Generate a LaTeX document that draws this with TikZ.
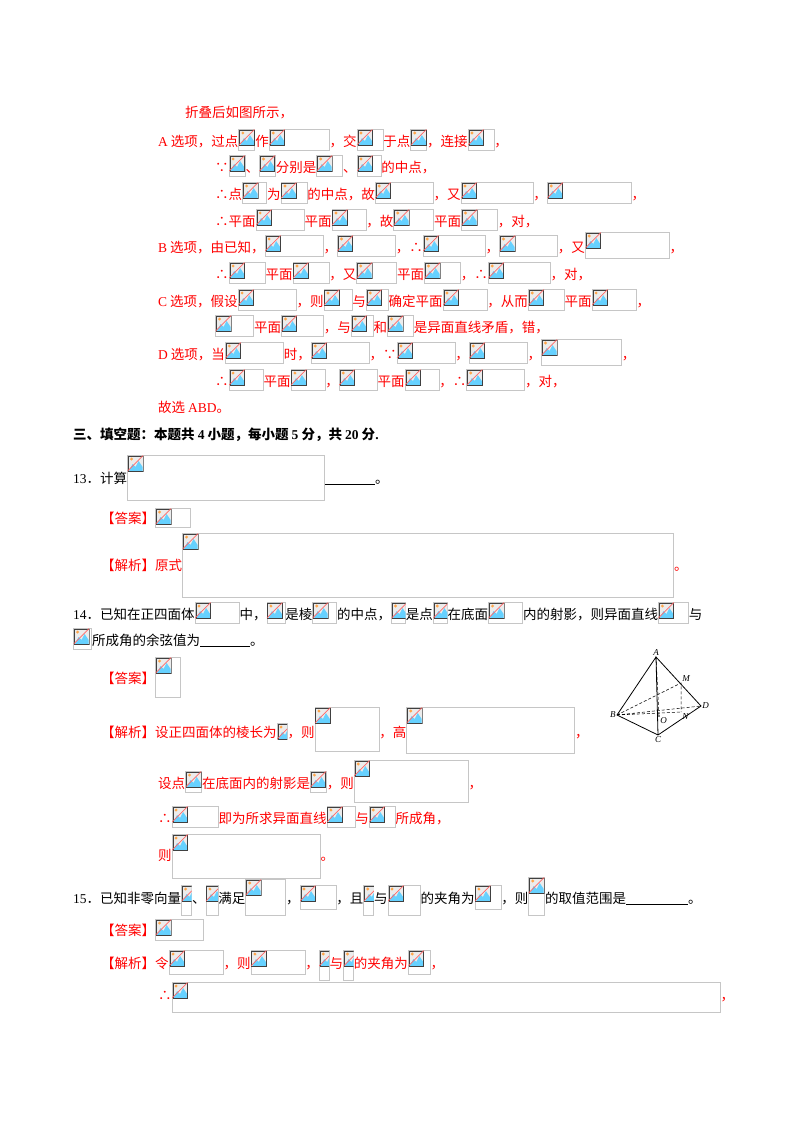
\documentclass[tikz,border=0pt]{standalone}
\usepackage{fontspec}
\setmainfont{Liberation Serif}
\newfontfamily\cjk{Noto Sans CJK SC}
\newcommand\tm[1]{{\rmfamily #1}}
\newcommand\ul[1]{\rule[-2pt]{#1pt}{0.6pt}}
% placeholder: width, height, depth
\newcommand\phx[3]{\tikz[baseline=0pt,x=1pt,y=1pt]{%
 \draw[gray!45,line width=0.8pt,fill=white] (0,-#3) rectangle (#1,#2);
 \pgfmathsetmacro\iw{min(16,#1)}
 \begin{scope}
 \clip (0,#2-17) rectangle (\iw,#2);
 \fill[white!85!gray] (1,#2-16.5) rectangle (15.5,#2-1);
 \fill[blue!30!cyan!60] (1.5,#2-16)--(5,#2-9)--(8,#2-12)--(11,#2-6)--(15,#2-12)--(15,#2-16)--cycle;
 \draw[black!75,line width=0.9pt] (1,#2-16.5) rectangle (15.5,#2-1);
 \fill[orange!70] (4,#2-4) circle (1.6);
 \draw[red!60,line width=0.7pt] (0,#2-16)--(15.5,#2-0.5);
 \end{scope}}}
\newcommand\ph[1]{\phx{#1}{17}{4}}
\begin{document}
\begin{tikzpicture}[x=1pt,y=-1pt,
 t/.style={anchor=base west,inner sep=0pt,font=\cjk\fontsize{13.5}{16}\selectfont},
 r/.style={t,text=red},
 k/.style={t,text=black}]
\useasboundingbox[fill=white] (0,0) rectangle (800,1132);
\node[r] (l1) at (185,117) {折叠后如图所示，};
\node[r] (l2) at (158,146) {\tm{A} 选项，过点\ph{16}作\ph{60}，交\ph{26}于点\ph{16}，连接\ph{26}，};
\node[r] (l3) at (215,172) {∵\ph{16}、\ph{16}分别是\ph{26}、\ph{24}的中点，};
\node[r] (l4) at (215,199) {∴点\ph{24}为\ph{26}的中点，故\ph{58}，又\ph{72}，\ph{84}，};
\node[r] (l5) at (215,226) {∴平面\ph{48}平面\ph{34}，故\ph{40}平面\ph{36}，对，};
\node[r] (l6) at (158,252) {\tm{B} 选项，由已知，\ph{58}，\ph{58}，∴\ph{62}，\ph{58}，又\phx{84}{20}{6}，};
\node[r] (l7) at (215,279) {∴\ph{36}平面\ph{36}，又\ph{40}平面\ph{36}，∴\ph{62}，对，};
\node[r] (l8) at (158,306) {\tm{C} 选项，假设\ph{58}，则\ph{28}与\ph{22}确定平面\ph{44}，从而\ph{36}平面\ph{44}，};
\node[r] (l9) at (215,332) {\ph{38}平面\ph{42}，与\ph{22}和\ph{26}是异面直线矛盾，错，};
\node[r] (l10) at (158,359) {\tm{D} 选项，当\ph{58}时，\ph{58}，∵\ph{58}，\ph{58}，\phx{80}{20}{6}，};
\node[r] (l11) at (215,386) {∴\ph{34}平面\ph{34}，\ph{38}平面\ph{34}，∴\ph{58}，对，};
\node[r] (l12) at (158,412) {故选 \tm{ABD}。};
\node[k,font=\cjk\bfseries\fontsize{13.5}{16}\selectfont] (s3) at (73,439) {三、填空题：本题共 \tm{\textbf{4}} 小题，每小题 \tm{\textbf{5}} 分，共 \tm{\textbf{20}} 分\tm{.}};
\node[k] (q13) at (73,483) {\tm{13}．计算\phx{197}{28}{17}\ul{50}。};
\node[r] (a13) at (101,523) {【答案】\phx{35}{15}{4}};
\node[r] (j13) at (101,570) {【解析】原式\phx{491}{37}{27}。};
\node[k] (q14) at (73,619) {\tm{14}．已知在正四面体\ph{44}中，\ph{18}是棱\ph{24}的中点，\ph{14}是点\ph{14}在底面\ph{34}内的射影，则异面直线\ph{30}与};
\node[k] (q14b) at (73,645) {\ph{18}所成角的余弦值为\ul{50}。};
\node[r] (a14) at (101,683) {【答案】\phx{25}{26}{14}};
\node[r] (j14) at (101,737) {【解析】设正四面体的棱长为\phx{10}{14}{2}，则\phx{64}{30}{14}，高\phx{168}{30}{16}，};
\node[r] (j14b) at (158,788) {设点\ph{16}在底面内的射影是\ph{16}，则\phx{114}{28}{14}，};
\node[r] (j14c) at (158,823) {∴\ph{46}即为所求异面直线\ph{28}与\ph{26}所成角，};
\node[r] (j14d) at (158,860) {则\phx{148}{26}{18}。};
\node[k] (q15) at (73,903) {\tm{15}．已知非零向量\phx{10}{18}{12}、\phx{12}{18}{12}满足\phx{40}{24}{12}，\phx{36}{18}{6}，且\phx{10}{18}{12}与\phx{32}{18}{12}的夹角为\phx{26}{18}{6}，则\phx{16}{26}{12}的取值范围是\ul{62}。};
\node[r] (a15) at (101,935) {【答案】\phx{48}{16}{5}};
\node[r] (j15) at (101,968) {【解析】令\phx{54}{18}{6}，则\phx{54}{18}{6}，\phx{10}{18}{12}与\phx{10}{18}{12}的夹角为\phx{22}{18}{6}，};
\node[r] (j15b) at (158,1000) {∴\phx{548}{18}{12}，};
% tetrahedron figure
\begin{scope}[line width=0.8pt,font=\rmfamily\itshape\small]
\coordinate (A) at (656,657); \coordinate (B) at (617,715);
\coordinate (C) at (658,735); \coordinate (D) at (701,706);
\coordinate (M) at (681,683); \coordinate (O) at (659,716);
\coordinate (N) at (681,712);
\draw (A)--(B)--(C)--(D)--(A)--(C);
\draw[densely dashed,line width=0.5pt] (B)--(D) (B)--(M)--(N) (B)--(N) (A)--(O);
\fill (O) circle (0.9);
\node[inner sep=1pt,above] (lA) at (A) {A};
\node[inner sep=1pt,above right] (lM) at (M) {M};
\node[inner sep=1pt,left] (lB) at (B) {B};
\node[inner sep=1pt,right] (lD) at (D) {D};
\node[inner sep=1pt,below] (lC) at (C) {C};
\node[inner sep=1pt,below right] (lO) at (O) {O};
\node[inner sep=1pt,below right] (lN) at (N) {N};
\end{scope}
\end{tikzpicture}
\end{document}
